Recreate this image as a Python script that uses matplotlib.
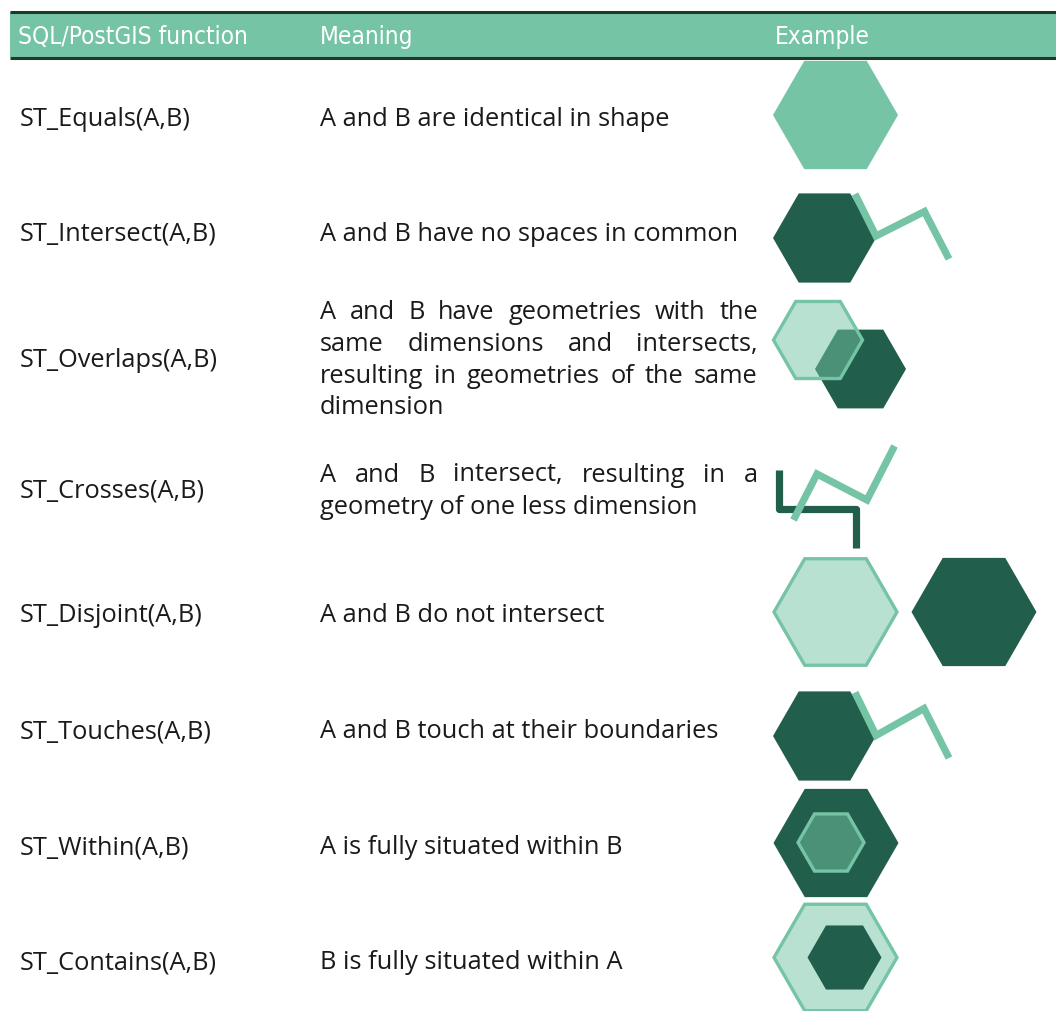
import matplotlib.pyplot as plt
import numpy as np
from matplotlib.patches import Polygon
from matplotlib.colors import to_rgba

# table contents
headers = ['SQL/PostGIS function', 'Meaning', 'Example']
header_x = [18, 320, 775]

functions = ['ST_Equals(A,B)', 'ST_Intersect(A,B)', 'ST_Overlaps(A,B)', 'ST_Crosses(A,B)',
             'ST_Disjoint(A,B)', 'ST_Touches(A,B)', 'ST_Within(A,B)', 'ST_Contains(A,B)']
meanings = [
    ['A and B are identical in shape'],
    ['A and B have no spaces in common'],
    ['A and B have geometries with the', 'same dimensions and intersects,',
     'resulting in geometries of the same', 'dimension'],
    ['A and B intersect, resulting in a', 'geometry of one less dimension'],
    ['A and B do not intersect'],
    ['A and B touch at their boundaries'],
    ['A is fully situated within B'],
    ['B is fully situated within A'],
]
row_y = [117, 232, 358, 489, 614, 730, 846, 961]

# example shapes: (kind, cx, cy, r)
hexes = [
    [('fill', 835.5, 116, 62.5)],
    [('dark', 824.5, 239, 51.5)],
    [('dark', 860.5, 370, 45.5), ('glass', 818, 341, 44.5)],
    [],
    [('pale', 835.5, 613, 61.5), ('dark', 974, 613, 62.5)],
    [('dark', 824.5, 737, 51.5)],
    [('dark', 836, 844, 62.5), ('glass', 831, 843.5, 33)],
    [('pale', 835.5, 958.5, 61.5), ('dark', 844.5, 958.5, 37)],
]
# polylines: (kind, xs, ys)
lines = [
    [],
    [('accent', [855, 876, 924.5, 949], [195, 237, 212.5, 260])],
    [],
    [('dark', [778.5, 778.5, 856, 856], [471, 510, 510, 548.5]),
     ('accent', [793.5, 817, 867, 894.5], [521, 475, 501, 447])],
    [],
    [('accent', [855, 876, 924, 949], [693.5, 736.5, 709.5, 759])],
    [],
    [],
]

ACCENT = '#75c4a5'
DARK = '#215e4c'
PALE = '#b9e1d2'
RULE = '#1d3a2b'
TEXT = '#1a1a1a'

fig = plt.figure(figsize=(10.56, 10.12), dpi=100)
ax = fig.add_axes([0, 0, 1, 1])
ax.set_xlim(0, 1056)
ax.set_ylim(1012, 0)
ax.axis('off')

# header band
ax.fill_between([10, 1056], 13, 58, color=ACCENT, lw=0)
ax.plot([10, 1056], [12.5, 12.5], color=RULE, lw=2.2, solid_capstyle='butt')
ax.plot([10, 1056], [58.5, 58.5], color=RULE, lw=2.2, solid_capstyle='butt')
for h, x in zip(headers, header_x):
    ax.text(x, 44, h, color='white', fontsize=17.5, va='baseline', ha='left',
            family=['Liberation Sans Narrow', 'DejaVu Sans'], fontstretch='condensed')

body_font = dict(fontsize=18.3, color=TEXT, va='baseline', family=['Open Sans', 'DejaVu Sans'])
renderer = fig.canvas.get_renderer()
left, right = 320, 758
spacing = 32

for fn, mean, y in zip(functions, meanings, row_y):
    ax.text(20, y + 8.5, fn, **body_font)
    base = y + 8.5 - (len(mean) - 1) * spacing / 2
    for i, line in enumerate(mean):
        by = base + i * spacing
        if i == len(mean) - 1:
            ax.text(left, by, line, **body_font)
            continue
        # justified line
        words = line.split()
        objs = [ax.text(left, by, w, **body_font) for w in words]
        widths = [o.get_window_extent(renderer).width for o in objs]
        gap = (right - left - sum(widths)) / (len(words) - 1)
        x = left
        for o, w in zip(objs, widths):
            o.set_x(x)
            x += w + gap


def hexagon(cx, cy, r):
    ang = np.radians(np.arange(0, 360, 60))
    return np.column_stack([cx + r * np.cos(ang), cy + r * np.sin(ang)])


for row in hexes:
    for kind, cx, cy, r in row:
        pts = hexagon(cx, cy, r)
        if kind == 'fill':
            p = Polygon(pts, closed=True, fc=ACCENT, ec='none')
        elif kind == 'dark':
            p = Polygon(pts, closed=True, fc=DARK, ec='none')
        elif kind == 'pale':
            p = Polygon(pts, closed=True, fc=PALE, ec=ACCENT, lw=2.4)
        else:
            p = Polygon(pts, closed=True, fc=to_rgba(ACCENT, 0.5), ec=ACCENT, lw=2.4)
        ax.add_patch(p)

for row in lines:
    for kind, xs, ys in row:
        ax.plot(xs, ys, color=ACCENT if kind == 'accent' else DARK, lw=5.2,
                solid_capstyle='butt', solid_joinstyle='miter' if kind == 'accent' else 'round')

fig.savefig('out.png', dpi=100)
